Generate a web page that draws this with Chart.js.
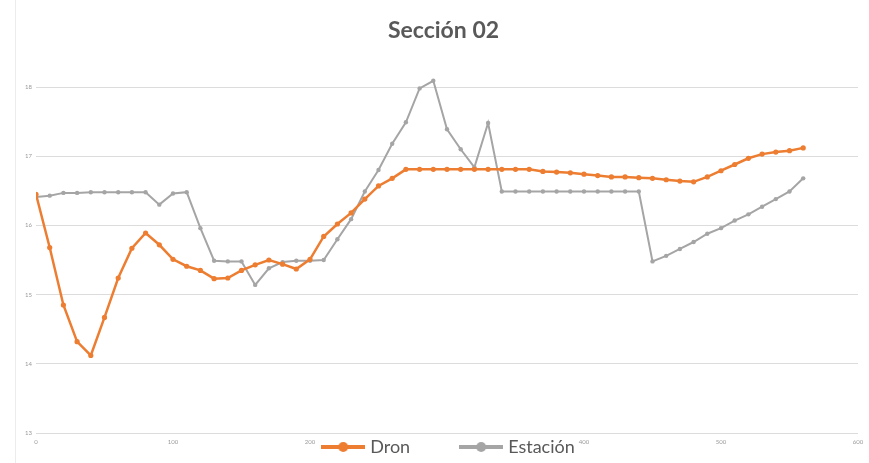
<!DOCTYPE html>
<html>
<head>
<meta charset="utf-8">
<title>Sección 02</title>
<style>
  html, body { margin: 0; padding: 0; background: #ffffff; }
  #wrap { width: 869px; height: 463px; position: relative; }
</style>
<script src="https://cdn.jsdelivr.net/npm/chart.js@4.4.1/dist/chart.umd.min.js"></script>
</head>
<body>
<div id="wrap"><canvas id="chart" width="869" height="463"></canvas></div>
<script>
// Distance along the section (m)
const distancias = [
  0, 10, 20, 30, 40, 50, 60, 70, 80, 90,
  100, 110, 120, 130, 140, 150, 160, 170, 180, 190,
  200, 210, 220, 230, 240, 250, 260, 270, 280, 290,
  300, 310, 320, 330, 340, 350, 360, 370, 380, 390,
  400, 410, 420, 430, 440, 450, 460, 470, 480, 490,
  500, 510, 520, 530, 540, 550, 560
];

// Elevation surveyed with the drone
const cotasDron = [
  16.45, 15.68, 14.85, 14.32, 14.12, 14.67, 15.24, 15.67, 15.89, 15.72,
  15.51, 15.41, 15.35, 15.23, 15.24, 15.35, 15.43, 15.50, 15.44, 15.37,
  15.51, 15.84, 16.02, 16.18, 16.38, 16.57, 16.68, 16.81, 16.81, 16.81,
  16.81, 16.81, 16.81, 16.81, 16.81, 16.81, 16.81, 16.78, 16.77, 16.76,
  16.74, 16.72, 16.70, 16.70, 16.69, 16.68, 16.66, 16.64, 16.63, 16.70,
  16.79, 16.88, 16.97, 17.03, 17.06, 17.08, 17.12
];

// Elevation surveyed with the total station
const cotasEstacion = [
  16.41, 16.43, 16.47, 16.47, 16.48, 16.48, 16.48, 16.48, 16.48, 16.30,
  16.46, 16.48, 15.96, 15.49, 15.48, 15.48, 15.14, 15.38, 15.47, 15.49,
  15.49, 15.50, 15.80, 16.09, 16.49, 16.80, 17.18, 17.49, 17.98, 18.09,
  17.39, 17.10, 16.84, 17.48, 16.49, 16.49, 16.49, 16.49, 16.49, 16.49,
  16.49, 16.49, 16.49, 16.49, 16.49, 15.48, 15.56, 15.66, 15.76, 15.88,
  15.96, 16.07, 16.16, 16.27, 16.38, 16.49, 16.68
];

const nombresSeries = ['Dron', 'Estación'];
const tituloGrafico = 'Sección 02';

const NARANJA = '#ED7D31';
const GRIS = '#A5A5A5';

function toPoints(xs, ys) {
  return xs.map((x, i) => ({ x: x, y: ys[i] }));
}

// Legend swatch: a short line with a round marker in the middle
function legendSwatch(color) {
  const c = document.createElement('canvas');
  c.width = 44; c.height = 12;
  const g = c.getContext('2d');
  g.strokeStyle = color;
  g.lineWidth = 4;
  g.beginPath(); g.moveTo(0, 6); g.lineTo(44, 6); g.stroke();
  g.fillStyle = color;
  g.beginPath(); g.arc(22, 6, 5, 0, Math.PI * 2); g.fill();
  return c;
}

const LEGEND_PAD = 53;
const LEGEND_FONT = 18;

// Places the title and legend after the layout pass
const placement = {
  id: 'placement',
  afterLayout(chart) {
    const t = chart.titleBlock;
    if (t) { t.left = 9; t.right = 878; }
    const lg = chart.legend;
    if (lg) {
      lg.top = 447 - LEGEND_PAD - LEGEND_FONT / 2;
      lg.bottom = lg.top + 2 * LEGEND_PAD + LEGEND_FONT + 10;
      lg.left = 15.5; lg.right = 884.5;
    }
  },
  beforeDraw(chart) {
    const ctx = chart.ctx;
    ctx.save();
    ctx.strokeStyle = '#ececec';
    ctx.lineWidth = 1;
    ctx.beginPath();
    ctx.moveTo(15.5, 0); ctx.lineTo(15.5, 463);
    ctx.stroke();
    ctx.restore();
  }
};

new Chart(document.getElementById('chart'), {
  type: 'line',
  data: {
    datasets: [
      {
        label: nombresSeries[0],
        data: toPoints(distancias, cotasDron),
        borderColor: NARANJA,
        backgroundColor: NARANJA,
        borderWidth: 2.5,
        pointRadius: 2.6,
        pointBorderWidth: 0,
        pointBackgroundColor: NARANJA,
        tension: 0
      },
      {
        label: nombresSeries[1],
        data: toPoints(distancias, cotasEstacion),
        borderColor: GRIS,
        backgroundColor: GRIS,
        borderWidth: 2,
        pointRadius: 2.2,
        pointBorderWidth: 0,
        pointBackgroundColor: GRIS,
        tension: 0
      }
    ]
  },
  options: {
    responsive: false,
    animation: false,
    devicePixelRatio: 1,
    layout: { padding: { left: 0, right: 11, top: 0, bottom: 0 } },
    scales: {
      x: {
        type: 'linear',
        min: 0,
        max: 600,
        ticks: {
          stepSize: 100,
          padding: 5,
          color: '#9a9a9a',
          font: { family: 'Lato', size: 6 },
          callback: (v) => (v === 300 ? '' : v)
        },
        grid: { display: false, drawTicks: false },
        border: { display: false },
        afterFit: (s) => { s.height = 29; }
      },
      y: {
        min: 13,
        max: 18.5,
        afterBuildTicks: (s) => { s.ticks = s.ticks.filter(t => Number.isInteger(t.value)); },
        ticks: {
          stepSize: 1,
          padding: 4,
          color: '#9a9a9a',
          font: { family: 'Lato', size: 6 }
        },
        grid: { color: '#dcdcdc', lineWidth: 1, drawTicks: false },
        border: { display: false },
        afterFit: (s) => { s.width = 36; }
      }
    },
    plugins: {
      title: {
        display: true,
        text: tituloGrafico,
        color: '#595959',
        font: { family: 'Lato', size: 23, weight: 'bold', lineHeight: 1.2 },
        padding: { top: 17, bottom: 7.8 }
      },
      legend: {
        display: true,
        position: 'bottom',
        maxHeight: 1,
        labels: {
          usePointStyle: true,
          pointStyleWidth: 36,
          padding: LEGEND_PAD,
          color: '#595959',
          font: { family: 'Lato', size: LEGEND_FONT },
          generateLabels: (chart) => {
            const items = Chart.defaults.plugins.legend.labels.generateLabels(chart);
            return items.map((it, i) => Object.assign(it, {
              pointStyle: legendSwatch(i === 0 ? NARANJA : GRIS)
            }));
          }
        }
      },
      tooltip: { enabled: false }
    }
  },
  plugins: [placement]
});
</script>
</body>
</html>
